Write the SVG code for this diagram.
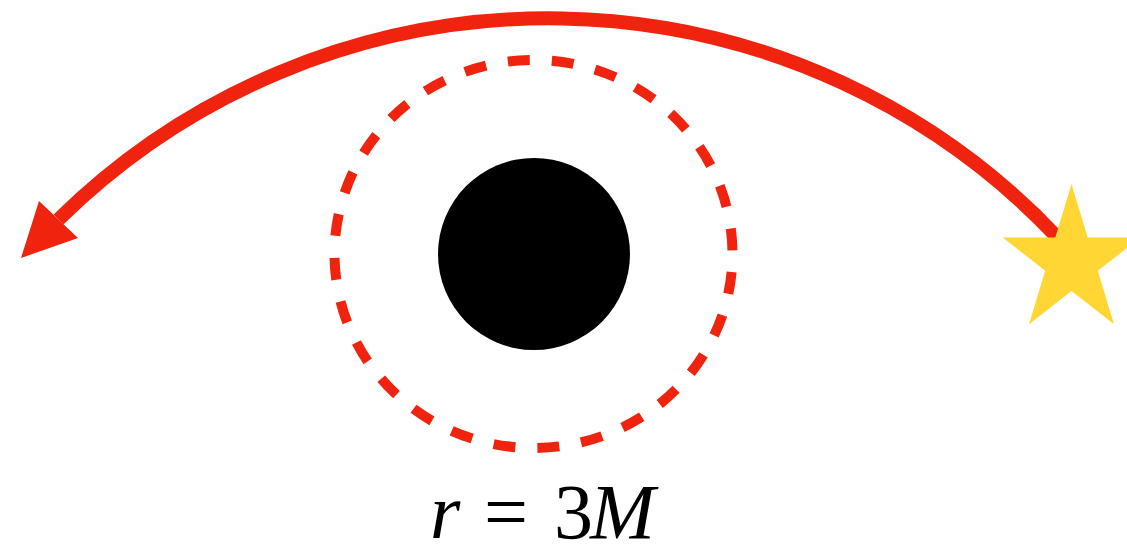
<svg xmlns="http://www.w3.org/2000/svg" width="1127" height="549" viewBox="0 0 1127 549">
  <style>
    .red-stroke { fill: none; stroke: #F0230F; }
    .label { font-family: "Liberation Serif", "Times New Roman", serif; font-size: 78px; fill: #000; }
    .it { font-style: italic; }
  </style>
  <rect width="1127" height="549" fill="#FFFFFF"/>
  <g id="photon-sphere">
    <ellipse cx="533.5" cy="254" rx="199" ry="194" class="red-stroke" stroke-width="10" stroke-dasharray="22 22.09" stroke-dashoffset="26"/>
  </g>
  <g id="black-hole">
    <circle cx="534" cy="254" r="96" fill="#000000"/>
  </g>
  <g id="connectors">
    <path d="M 1058 238 A 699 699 0 0 0 58.5 219.5" class="red-stroke" stroke-width="14"/>
    <polygon points="21,258 39,201 78,238" fill="#F0230F"/>
  </g>
  <g id="star">
    <polygon fill="#FFD633" points="1071.5,184 1087.7,237.6 1140.3,237.6 1097.8,270.7 1114,324.2 1071.5,291.1 1029,324.2 1045.2,270.7 1002.7,237.6 1055.3,237.6"/>
  </g>
  <g id="label">
    <text class="label" y="538"><tspan class="it" x="430">r</tspan><tspan x="484">=</tspan><tspan x="554">3</tspan><tspan class="it" x="590">M</tspan></text>
  </g>
</svg>
